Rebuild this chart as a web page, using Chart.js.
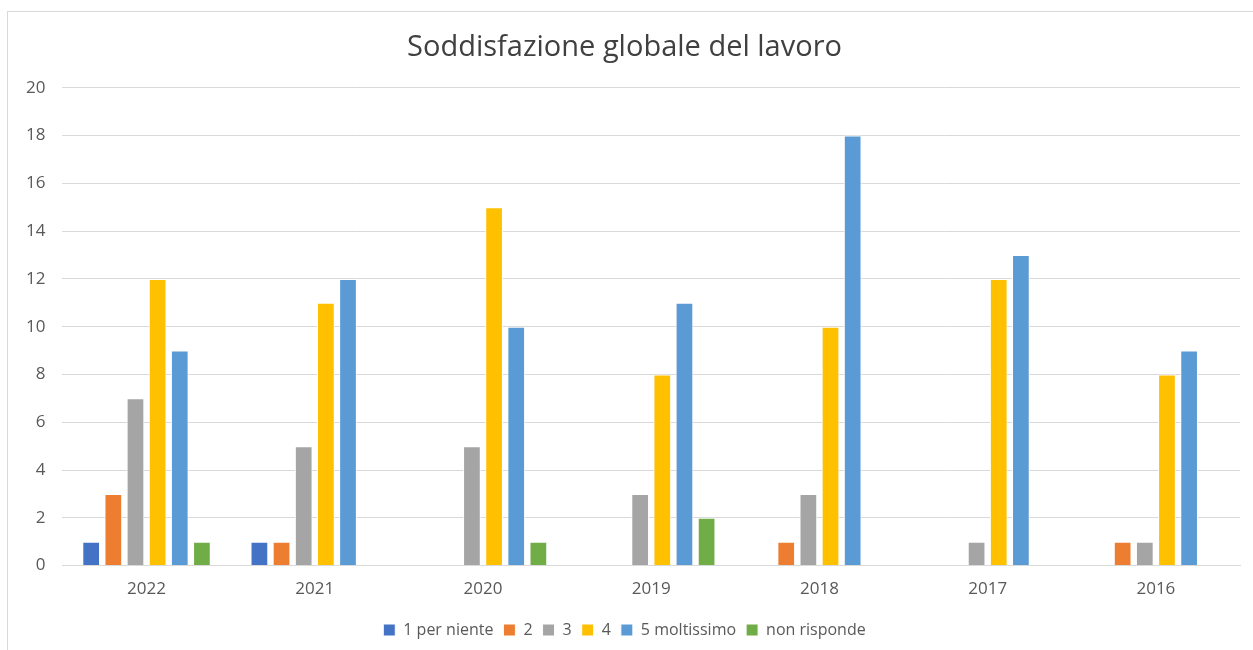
<!DOCTYPE html>
<html>
<head>
<meta charset="utf-8">
<script src="https://cdn.jsdelivr.net/npm/chart.js@4"></script>
<style>
  body { margin: 0; background: #fff; }
  #frame { position: absolute; left: 7px; top: 11px; width: 1250px; height: 650px; border: 1px solid #d9d9d9; }
  #wrap { position: absolute; left: 0; top: 0; width: 1253px; height: 650px; }
</style>
</head>
<body>
<div id="frame"></div>
<div id="wrap"><canvas id="myChart"></canvas></div>
<script>
var years = ["2022", "2021", "2020", "2019", "2018", "2017", "2016"];
var perNiente = [1, 1, 0, 0, 0, 0, 0];
var due = [3, 1, 0, 0, 1, 0, 1];
var tre = [7, 5, 5, 3, 3, 1, 1];
var quattro = [12, 11, 15, 8, 10, 12, 8];
var moltissimo = [9, 12, 10, 11, 18, 13, 9];
var nonRisponde = [1, 0, 1, 2, 0, 0, 0];

function ds(label, data, color) {
    return {
        label: label,
        data: data,
        backgroundColor: color,
        borderColor: "#ffffff",
        borderWidth: 1,
        categoryPercentage: 0.79,
        barPercentage: 0.8
    };
}

var txt = "#595959";
new Chart("myChart", {
    type: "bar",
    data: {
        labels: years,
        datasets: [
            ds("1 per niente", perNiente, "#4472c4"),
            ds("2", due, "#ed7d31"),
            ds("3", tre, "#a5a5a5"),
            ds("4", quattro, "#ffc000"),
            ds("5 moltissimo", moltissimo, "#5b9bd5"),
            ds("non risponde", nonRisponde, "#70ad47")
        ]
    },
    options: {
        responsive: true,
        maintainAspectRatio: false,
        animation: false,
        layout: { padding: { left: 9, right: 13, top: 30, bottom: 2 } },
        plugins: {
            title: {
                display: true,
                text: "Soddisfazione globale del lavoro",
                color: "#404040",
                font: { family: "Open Sans", size: 29, weight: "normal" },
                padding: { top: 0, bottom: 23 }
            },
            legend: {
                position: "bottom",
                labels: {
                    color: txt,
                    font: { family: "Open Sans", size: 16 },
                    boxWidth: 12,
                    boxHeight: 12,
                    padding: 10
                }
            },
            tooltip: { enabled: false }
        },
        scales: {
            x: {
                grid: { display: false, drawTicks: false },
                border: { color: "#d9d9d9", width: 1 },
                ticks: { color: txt, font: { family: "Open Sans", size: 17 }, padding: 13 }
            },
            y: {
                min: 0,
                max: 20,
                ticks: { stepSize: 2, color: txt, font: { family: "Open Sans", size: 17 }, padding: 17 },
                grid: { color: "#d9d9d9", drawTicks: false },
                border: { display: false }
            }
        }
    }
});
</script>
</body>
</html>
